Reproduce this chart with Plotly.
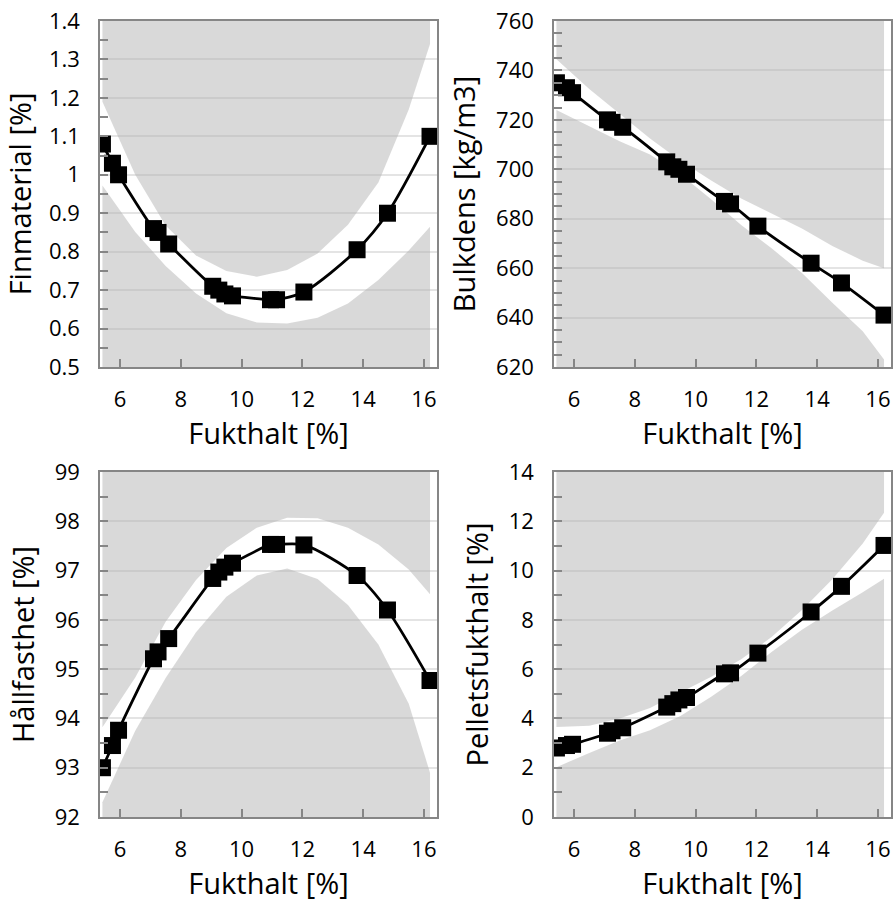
import plotly.graph_objects as go

# ---- data -------------------------------------------------------------
fukthalt = [5.42, 5.75, 5.95, 7.1, 7.25, 7.6, 9.05, 9.25, 9.45, 9.7,
            10.95, 11.15, 12.05, 13.8, 14.8, 16.2]

finmaterial = [1.08, 1.03, 1.0, 0.86, 0.85, 0.82, 0.71, 0.70, 0.69, 0.685,
               0.675, 0.675, 0.695, 0.805, 0.90, 1.10]
bulkdens = [735, 733, 731, 720, 719, 717, 703, 701, 700, 698,
            687, 686, 677, 662, 654, 641]
hallfasthet = [93.0, 93.45, 93.76, 95.21, 95.35, 95.62, 96.84, 96.97, 97.07, 97.15,
               97.53, 97.53, 97.52, 96.9, 96.2, 94.77]
pelletsfukthalt = [2.8, 2.9, 2.95, 3.4, 3.5, 3.62, 4.46, 4.6, 4.75, 4.85,
                   5.81, 5.85, 6.65, 8.32, 9.36, 11.02]

# confidence band (upper / lower) sampled along moisture content
band_x = [5.42, 6.5, 7.5, 8.5, 9.5, 10.5, 11.5, 12.5, 13.5, 14.5, 15.5, 16.2]
fin_upper = [1.19, 1.0, 0.868, 0.79, 0.75, 0.735, 0.752, 0.795, 0.87, 0.98, 1.17, 1.34]
fin_lower = [0.972, 0.851, 0.763, 0.691, 0.64, 0.616, 0.613, 0.628, 0.665, 0.726, 0.803, 0.865]
bulk_upper = [744.5, 732.5, 722.5, 712.5, 703.5, 695.6, 688.2, 682, 676, 669, 663, 660]
bulk_lower = [724, 717.5, 711.3, 706, 698, 688, 677.5, 668, 658, 646, 634.5, 623]
hall_upper = [93.82, 94.83, 95.96, 96.81, 97.46, 97.87, 98.07, 98.06, 97.87, 97.53, 97.02, 96.52]
hall_lower = [92.3, 93.75, 94.82, 95.75, 96.47, 96.9, 97.04, 96.83, 96.3, 95.5, 94.3, 92.9]
pel_upper = [3.65, 3.7, 4.0, 4.42, 5.05, 5.68, 6.4, 7.3, 8.4, 9.65, 11.1, 12.35]
pel_lower = [2.02, 2.6, 3.1, 3.52, 4.1, 4.87, 5.72, 6.7, 7.6, 8.38, 9.12, 9.67]

x_title = "Fukthalt [%]"
y_titles = ["Finmaterial [%]", "Bulkdens [kg/m3]", "Hållfasthet [%]", "Pelletsfukthalt [%]"]

y_ranges = [[0.5, 1.4], [620, 760], [92, 99], [0, 14]]
y_tickvals = [
    [0.5, 0.6, 0.7, 0.8, 0.9, 1.0, 1.1, 1.2, 1.3, 1.4],
    [620, 640, 660, 680, 700, 720, 740, 760],
    [92, 93, 94, 95, 96, 97, 98, 99],
    [0, 2, 4, 6, 8, 10, 12, 14],
]
y_ticktext = [
    ["0.5", "0.6", "0.7", "0.8", "0.9", "1", "1.1", "1.2", "1.3", "1.4"],
    ["620", "640", "660", "680", "700", "720", "740", "760"],
    ["92", "93", "94", "95", "96", "97", "98", "99"],
    ["0", "2", "4", "6", "8", "10", "12", "14"],
]
y_minor = [0.05, 5, 0.5, 1]
x_tickvals = [6, 8, 10, 12, 14, 16]
x_range = [5.34, 16.43]

series = [finmaterial, bulkdens, hallfasthet, pelletsfukthalt]
uppers = [fin_upper, bulk_upper, hall_upper, pel_upper]
lowers = [fin_lower, bulk_lower, hall_lower, pel_lower]

# ---- styling -----------------------------------------------------------
FONT = "Open Sans"
FILL = "rgba(176,176,176,0.48)"
GRID = "#e4e4e4"
AXIS = "#868686"

W, H = 895, 905
x_domains = [[100 / W, 437 / W], [554 / W, 891 / W]]
y_domains = [[1 - 367 / H, 1 - 21 / H], [1 - 817 / H, 1 - 472 / H]]

fig = go.Figure()

for i in range(4):
    xa = "x" if i == 0 else f"x{i + 1}"
    ya = "y" if i == 0 else f"y{i + 1}"
    ymin, ymax = y_ranges[i]
    n = len(band_x)
    # gray region above upper band
    fig.add_trace(go.Scatter(x=band_x, y=uppers[i], mode="lines", line=dict(width=0),
                             xaxis=xa, yaxis=ya, showlegend=False, hoverinfo="skip"))
    fig.add_trace(go.Scatter(x=band_x, y=[ymax] * n, mode="lines", line=dict(width=0),
                             fill="tonexty", fillcolor=FILL,
                             xaxis=xa, yaxis=ya, showlegend=False, hoverinfo="skip"))
    # gray region below lower band
    fig.add_trace(go.Scatter(x=band_x, y=lowers[i], mode="lines", line=dict(width=0),
                             xaxis=xa, yaxis=ya, showlegend=False, hoverinfo="skip"))
    fig.add_trace(go.Scatter(x=band_x, y=[ymin] * n, mode="lines", line=dict(width=0),
                             fill="tonexty", fillcolor=FILL,
                             xaxis=xa, yaxis=ya, showlegend=False, hoverinfo="skip"))
    # data
    fig.add_trace(go.Scatter(x=fukthalt, y=series[i], mode="lines+markers",
                             line=dict(color="black", width=2.8, shape="spline", smoothing=0.8),
                             marker=dict(symbol="square", size=17, color="black"),
                             xaxis=xa, yaxis=ya, showlegend=False))

layout = dict(
    width=W, height=H,
    margin=dict(l=0, r=0, t=0, b=0),
    paper_bgcolor="white", plot_bgcolor="white",
    font=dict(family=FONT, color="black"),
    showlegend=False,
)

for i in range(4):
    col = i % 2
    row = i // 2
    xkey = "xaxis" if i == 0 else f"xaxis{i + 1}"
    ykey = "yaxis" if i == 0 else f"yaxis{i + 1}"
    ya = "y" if i == 0 else f"y{i + 1}"
    xa = "x" if i == 0 else f"x{i + 1}"
    layout[xkey] = dict(
        domain=x_domains[col], anchor=ya, range=x_range, automargin=False,
        tickmode="array", tickvals=x_tickvals,
        ticks="inside", ticklen=8, tickwidth=1.5, tickcolor=AXIS,
        showline=True, linecolor=AXIS, linewidth=1.5, mirror=True,
        showgrid=False, zeroline=False,
        tickfont=dict(size=22, family=FONT, color="black"),
        ticklabelstandoff=12,
        title=dict(text=x_title, font=dict(size=29, family=FONT, color="black"), standoff=12),
    )
    layout[ykey] = dict(
        domain=y_domains[row], anchor=xa, range=y_ranges[i], automargin=False,
        tickmode="array", tickvals=y_tickvals[i], ticktext=y_ticktext[i],
        ticks="inside", ticklen=8, tickwidth=1.5, tickcolor=AXIS,
        minor=dict(tickmode="linear", tick0=y_ranges[i][0], dtick=y_minor[i],
                   ticks="inside", ticklen=8, tickwidth=1.5, tickcolor=AXIS, showgrid=False),
        showline=True, linecolor=AXIS, linewidth=1.5, mirror=True,
        showgrid=True, gridcolor=GRID, gridwidth=2, zeroline=False,
        tickfont=dict(size=22, family=FONT, color="black"),
        ticklabelstandoff=14,
        title=dict(text=y_titles[i], font=dict(size=29, family=FONT, color="black"), standoff=12),
    )

fig.update_layout(**layout)
fig.write_html("out.html")
